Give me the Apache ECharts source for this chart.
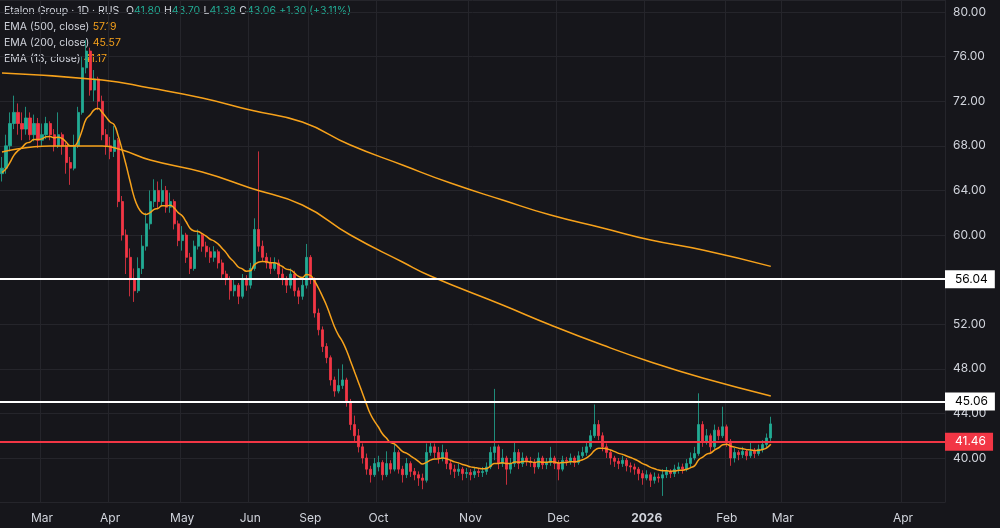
<!DOCTYPE html>
<html>
<head>
<meta charset="utf-8">
<script src="https://cdn.jsdelivr.net/npm/echarts@6/dist/echarts.min.js"></script>
<style>
  html, body { margin: 0; padding: 0; background: #16161b; }
  #chart { width: 1000px; height: 528px; }
</style>
</head>
<body>
<div id="chart"></div>
<script>
// daily candles: [open, close, low, high]
var candles = [
  [65.5,66,64.8,67],[66,68,65.5,69],[68,70,67.5,71],[70,71,69.5,72.5],[71,70,69,71.8],
  [70,69.5,68.5,71],[69.5,70.5,69,71.5],[70.5,69,68.5,71],[69,70,68.4,70.8],[70,68.5,67.8,70.5],
  [68.5,69,68,70],[69,70,68.6,70.6],[70,69,68.5,70.2],[69,68,67.5,69.5],[68,69,67.8,71],
  [69,68,67.2,69.2],[68,66.5,65.5,68.3],[66.5,66,64.5,67],[66,68,65.8,69],[68,71,67.8,71.5],
  [71,75,70.8,76],[75,76.5,74.5,77.5],[76.5,73,72.5,76.8],[73,74,72,74.8],[74,72,71.2,74.2],
  [72,69,68.5,72.5],[69,68,67.2,69.5],[68,67.5,66.8,68.8],[67.5,68.5,67,69.8],[68.5,63,62.5,68.7],
  [63,60,59.5,63.5],[60,58,56.5,60.5],[58,56,54.5,58.8],[56,55,54,57],[55,57,54.8,58],
  [57,59,56.5,60],[59,61,58.6,62],[61,63,60.5,64],[63,64,62.5,65],[64,63,62.4,64.8],
  [63,64,62.6,65],[64,62.5,62,64.4],[62.5,63,62,63.8],[63,61,60.5,63.2],[61,59.5,59,61.3],
  [59.5,60,58.6,60.8],[60,58,57.5,60.2],[58,57,56.5,58.4],[57,59,56.8,59.5],[59,60,58.7,60.5],
  [60,59,58.5,60.2],[59,58.5,58,59.4],[58.5,58,57.5,58.9],[58,58.5,57.6,59],[58.5,57.5,57,58.7],
  [57.5,56.5,56,57.8],[56.5,56,55.5,56.8],[56,55,54.2,56.3],[55,55.5,54.5,56],[55.5,54.5,53.8,55.7],
  [54.5,56,54.3,56.5],[56,55.5,55,56.4],[55.5,57,55.2,57.5],[57,60.5,56.8,61.5],[60.5,59,58.5,67.5],
  [59,58,57.6,59.5],[58,57.5,57,58.4],[57.5,57,56.5,58],[57,57.5,56.8,58],[57.5,56.5,56,57.8],
  [56.5,56,55.5,57],[56,55.5,54.8,56.3],[55.5,56.5,55.2,57],[56.5,55,54.5,56.8],[55,54.5,53.8,55.3],
  [54.5,55.5,54.2,56.2],[55.5,58,55.2,59.2],[58,56,55.6,58.2],[56,53,52.6,56.2],[53,51.5,51,53.4],
  [51.5,50,49.5,51.8],[50,49,48.5,50.3],[49,47,46.5,49.2],[47,46,45.5,47.3],[46,46.5,45.8,48],
  [46.5,47,46.2,48.4],[47,45,44.6,47.2],[45,43,42.5,45.3],[43,42,41.5,43.8],[42,41,40.5,42.6],
  [41,40,39.5,41.3],[40,39,38.5,40.4],[39,38.5,37.8,39.3],[38.5,39.5,38.3,40],[39.2,39.6,38.8,40.2],
  [39.6,38.5,38,39.8],[38.5,39.5,38.3,40.6],[39.5,39,38.6,39.8],[39,40.5,38.8,41.2],[40.5,39,38.6,40.7],
  [39,38.5,37.8,39.3],[38.5,39.5,38.2,40],[39.5,38.8,38.3,39.7],[38.8,38.5,38,39.1],[38.5,38.2,37.5,38.8],
  [38.2,38,37.2,38.6],[38,40.5,37.8,41.3],[40.5,41,40.2,41.5],[41,40.5,40,41.3],[40.5,40,39.5,41],
  [40,40.5,39.7,41.2],[40.5,39.5,39,40.8],[39.5,39,38.5,39.8],[39,38.8,38.2,39.4],[38.8,39,38.4,39.5],
  [39,38.6,38,39.2],[38.6,38.7,38.2,39.1],[38.7,38.5,38,39],[38.5,38.8,38.2,39.2],[38.8,38.7,38.3,39.1],
  [38.7,38.8,38.3,39.2],[38.8,39.2,38.5,39.6],[39.2,40.5,39,41],[40.5,41,39.8,46.2],[41,39.5,39,41.2],
  [39.5,40,39.2,40.8],[40,39,37.6,40.2],[39,39.5,38.6,40],[39.5,40.5,39.2,41.5],[40.5,39.5,39,40.8],
  [39.5,40,39.2,40.5],[40,39.7,39.3,40.2],[39.7,39.6,39.2,40.1],[39.6,39.2,38.6,39.9],[39.2,40,39,40.5],
  [40,39.4,39,40.2],[39.4,39.6,39,40],[39.6,40,39.3,41],[40,39.5,39,40.2],[39.5,39,38,39.8],
  [39,39.8,38.8,40.2],[39.8,39.7,39.3,40.1],[39.7,40,39.4,40.4],[40,39.6,39.2,40.2],[39.6,40.2,39.4,40.6],
  [40.2,40.5,40,41],[40.5,41,40.2,41.4],[41,42,40.8,42.5],[42,43,41.8,44.8],[43,42,41.6,43.4],
  [42,41,40.6,42.3],[41,40.5,40,41.3],[40.5,40,39.4,40.8],[40,39.7,39.2,40.2],[39.7,39.5,39,40],
  [39.5,39.8,39.2,40.2],[39.8,39.3,38.8,40],[39.3,39.2,38.7,39.6],[39.2,39,38.5,39.5],[39,38.6,38,39.2],
  [38.6,38.2,37.6,38.9],[38.2,38.5,38,38.9],[38.5,38,37.4,38.7],[38,38.3,37.7,38.7],[38.3,38.2,37.8,38.6],
  [38.2,38.5,36.6,39],[38.5,38.8,38.2,39.2],[38.8,38.6,38.2,39],[38.6,39,38.3,39.4],[39,39.2,38.6,39.6],
  [39.2,39,38.6,39.5],[39,39.5,38.8,39.9],[39.5,40,39.2,40.5],[40,40.4,39.8,41],[40.4,43,40.2,45.8],
  [43,41.5,41,43.3],[41.5,42,41.2,42.6],[42,41,40.5,42.2],[41,42.5,40.8,43],[42.5,42,41.6,42.8],
  [42,42.8,41.8,44.6],[42.8,41.5,41,43],[41.5,40,39.3,41.7],[40,40.5,39.6,40.9],[40.5,40.3,39.8,40.7],
  [40.3,40.6,40,41],[40.6,40.2,39.8,40.8],[40.2,40.6,40,41.5],[40.6,40.4,40,40.9],[40.4,40.8,40.2,41.2],
  [40.8,41.2,40.5,41.6],[41.2,41.8,40.9,42.2],[41.8,43.06,41.38,43.7]
];

// EMA readings: [candle index, value]
var ema500 = [[0,74.53],[25,73.9],[37,73.18],[50,72.29],[62,71.21],[75,70.13],[87,68.07],[100,66.28],
  [112,64.66],[125,63.14],[137,61.79],[150,60.63],[162,59.55],[175,58.65],[192,57.19]];
var ema200 = [[0,67.44],[12,67.98],[25,67.98],[30,67.62],[37,66.73],[50,65.65],[62,64.22],[75,62.69],
  [87,60.0],[100,57.58],[107,56.32],[125,53.72],[137,51.93],[150,50.13],[162,48.61],[175,47.17],[192,45.57]];
var ema13Start = 65.6;

var monthLabels = {10:'Mar',27:'Apr',45:'May',62:'Jun',77:'Sep',94:'Oct',117:'Nov',139:'Dec',161:'2026',181:'Feb',195:'Mar',225:'Apr'};
var totalSlots = 236;
var levels = [
  { value: 56.04, color: '#ffffff', text: '#000000' },
  { value: 45.06, color: '#ffffff', text: '#000000' },
  { value: 41.46, color: '#f23645', text: '#ffffff' }
];

var days = [];
for (var i = 0; i < totalSlots; i++) days.push(i);

// EMA 13 from the closes
var ema13 = [];
var k = 2 / 14, prev = ema13Start;
candles.forEach(function (c, i) {
  prev = i === 0 ? ema13Start : prev + k * (c[1] - prev);
  ema13.push([i, +prev.toFixed(3)]);
});

var chart = echarts.init(document.getElementById('chart'));
var isMonth = function (idx) { return monthLabels[idx] !== undefined; };

chart.setOption({
  backgroundColor: '#16161b',
  animation: false,
  textStyle: { fontFamily: 'Inter, Roboto, sans-serif' },
  graphic: [{
    type: 'text', left: 4, top: 5,
    style: {
      text: '{t|Etalon Group · 1D · RUS}  {t|O}{g|41.80} {t|H}{g|43.70} {t|L}{g|41.38} {t|C}{g|43.06} {g|+1.30 (+3.11%)}\n' +
            '{t|EMA (500, close)} {o|57.19}\n{t|EMA (200, close)} {o|45.57}\n{t|EMA (13, close)} {o|41.17}',
      rich: {
        t: { fill: '#d1d4dc', fontSize: 10.5, lineHeight: 16, fontFamily: 'Inter, sans-serif' },
        g: { fill: '#22ab94', fontSize: 10.5, lineHeight: 16, fontFamily: 'Inter, sans-serif' },
        o: { fill: '#f7a21b', fontSize: 10.5, lineHeight: 16, fontFamily: 'Inter, sans-serif' }
      }
    }
  }],
  grid: { left: 0, right: 55, top: 0, bottom: 25.4 },
  xAxis: {
    type: 'category',
    data: days,
    boundaryGap: true,
    axisLine: { show: false },
    axisTick: { show: false },
    axisLabel: {
      interval: function (idx) { return isMonth(idx); },
      formatter: function (v) {
        var s = monthLabels[v];
        return s === '2026' ? '{b|2026}' : s;
      },
      color: '#d1d4dc', fontSize: 12, margin: 10,
      rich: { b: { color: '#d1d4dc', fontSize: 12, fontWeight: 'bold' } }
    },
    splitLine: { show: true, interval: function (idx) { return isMonth(idx); }, lineStyle: { color: '#25252b' } }
  },
  yAxis: {
    type: 'value', position: 'right',
    min: 36, max: 81.08, interval: 4,
    axisLine: { show: false },
    axisTick: { show: false },
    axisLabel: {
      color: '#d1d4dc', fontSize: 12, margin: 8, showMinLabel: false, showMaxLabel: false,
      formatter: function (v) { return v.toFixed(2); }
    },
    splitLine: { lineStyle: { color: '#25252b' } }
  },
  series: [
    {
      type: 'candlestick',
      data: candles,
      barWidth: 2.6,
      itemStyle: { color: '#22ab94', color0: '#f23645', borderColor: '#22ab94', borderColor0: '#f23645', borderWidth: 0.8 },
      markLine: {
        symbol: 'none', silent: true, animation: false,
        data: levels.map(function (l) {
          return {
            yAxis: l.value,
            lineStyle: { color: l.color, width: 2, type: 'solid' },
            label: {
              show: true, position: 'end', distance: 0,
              formatter: l.value.toFixed(2),
              backgroundColor: l.color, color: l.text, fontSize: 12,
              padding: [3, 7, 3, 10], borderRadius: 0
            }
          };
        })
      }
    },
    { type: 'line', data: ema500, smooth: true, symbol: 'none', lineStyle: { color: '#f7a21b', width: 1.5 } },
    { type: 'line', data: ema200, smooth: true, symbol: 'none', lineStyle: { color: '#f7a21b', width: 1.5 } },
    { type: 'line', data: ema13, smooth: true, symbol: 'none', lineStyle: { color: '#f7a21b', width: 1.5 } }
  ]
});
window.addEventListener('resize', chart.resize);
</script>
</body>
</html>
